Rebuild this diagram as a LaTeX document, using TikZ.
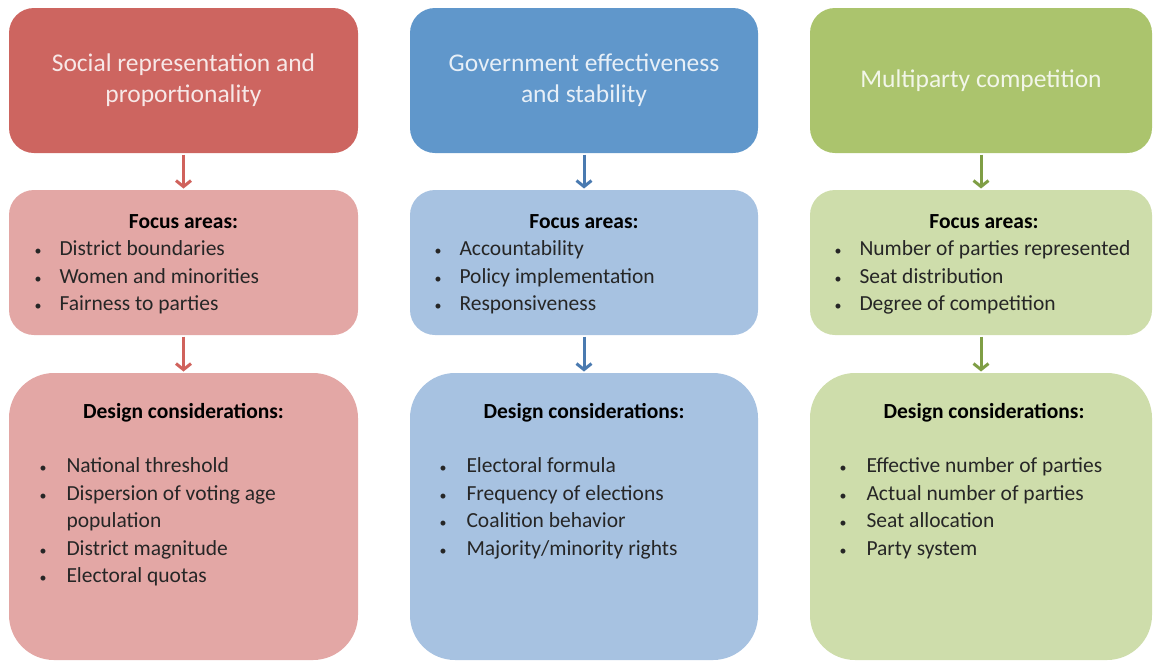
\documentclass[tikz,border=0pt]{standalone}
\usepackage{fontspec}
\setmainfont{Carlito}
\usetikzlibrary{arrows.meta}

\definecolor{redtop}{HTML}{CD6560}
\definecolor{redlight}{HTML}{E3A7A5}
\definecolor{redarrow}{HTML}{D0625C}
\definecolor{bluetop}{HTML}{6097CB}
\definecolor{bluelight}{HTML}{A7C2E1}
\definecolor{bluearrow}{HTML}{4A7AB0}
\definecolor{greentop}{HTML}{ABC46D}
\definecolor{greenlight}{HTML}{CEDDAB}
\definecolor{greenarrow}{HTML}{7F9E45}

\newcommand{\dotmark}{{\fontsize{14}{14}\selectfont\textbullet}}

\begin{document}
\begin{tikzpicture}[x=1pt,y=-1pt,
  -{Straight Barb[length=6pt,width=15pt]},line width=3pt,
  top box/.style={rectangle,rounded corners=25pt,inner sep=0pt,minimum height=145pt,
    text=white,text opacity=0.85,align=center,font=\fontsize{25.5}{31}\selectfont},
  mid box/.style={rectangle,rounded corners=25pt,inner sep=0pt,minimum height=145pt},
  low box/.style={rectangle,rounded corners=45pt,inner sep=0pt,minimum height=287pt},
  head/.style={anchor=base,inner sep=0pt,font=\fontsize{21.5}{27}\selectfont\bfseries},
  item/.style={anchor=base west,inner sep=0pt,text=black!85,font=\fontsize{21.5}{27}\selectfont}]
  \useasboundingbox (0,0) rectangle (1153,662);

  % left column
  \node[top box,fill=redtop,minimum width=349pt] (rtop) at (183.5,80.5) {Social representation and\\proportionality};
  \node[mid box,fill=redlight,minimum width=349pt] (rmid) at (183.5,262.5) {};
  \node[low box,fill=redlight,minimum width=349pt] (rlow) at (183.5,516.5) {};
  \node[head] (rfocus) at (183.5,228) {Focus areas:};
  \foreach \yy/\txt [count=\i] in {255/District boundaries,283/Women and minorities,310/Fairness to parties}
    \node[item] (rf\i) at (33,\yy) {\makebox[25pt][l]{\dotmark}\txt};
  \node[head] (rdesign) at (183.5,418) {Design considerations:};
  \foreach \yy/\txt [count=\i] in {472/National threshold,500/Dispersion of voting age,555/District magnitude,582/Electoral quotas}
    \node[item] (rd\i) at (38,\yy) {\makebox[27pt][l]{\dotmark}\txt};
  \node[item] (rd5) at (65,527) {population};
  \path[draw=redarrow] (rtop) edge (rmid) (rmid) edge (rlow);

  % middle column
  \node[top box,fill=bluetop,minimum width=348pt] (btop) at (584,80.5) {Government effectiveness\\and stability};
  \node[mid box,fill=bluelight,minimum width=348pt] (bmid) at (584,262.5) {};
  \node[low box,fill=bluelight,minimum width=348pt] (blow) at (584,516.5) {};
  \node[head] (bfocus) at (584,228) {Focus areas:};
  \foreach \yy/\txt [count=\i] in {255/Accountability,283/Policy implementation,310/Responsiveness}
    \node[item] (bf\i) at (433,\yy) {\makebox[25pt][l]{\dotmark}\txt};
  \node[head] (bdesign) at (584,418) {Design considerations:};
  \foreach \yy/\txt [count=\i] in {472/Electoral formula,500/Frequency of elections,527/Coalition behavior,555/{Majority/minority rights}}
    \node[item] (bd\i) at (438,\yy) {\makebox[27pt][l]{\dotmark}\txt};
  \path[draw=bluearrow] (btop) edge (bmid) (bmid) edge (blow);

  % right column
  \node[top box,fill=greentop,minimum width=342pt] (gtop) at (981,80.5) {Multiparty competition};
  \node[mid box,fill=greenlight,minimum width=342pt] (gmid) at (981,262.5) {};
  \node[low box,fill=greenlight,minimum width=342pt] (glow) at (981,516.5) {};
  \node[head] (gfocus) at (984,228) {Focus areas:};
  \foreach \yy/\txt [count=\i] in {255/Number of parties represented,283/Seat distribution,310/Degree of competition}
    \node[item] (gf\i) at (833,\yy) {\makebox[25pt][l]{\dotmark}\txt};
  \node[head] (gdesign) at (984,418) {Design considerations:};
  \foreach \yy/\txt [count=\i] in {472/Effective number of parties,500/Actual number of parties,527/Seat allocation,555/Party system}
    \node[item] (gd\i) at (838,\yy) {\makebox[27pt][l]{\dotmark}\txt};
  \path[draw=greenarrow] (gtop) edge (gmid) (gmid) edge (glow);
\end{tikzpicture}
\end{document}
